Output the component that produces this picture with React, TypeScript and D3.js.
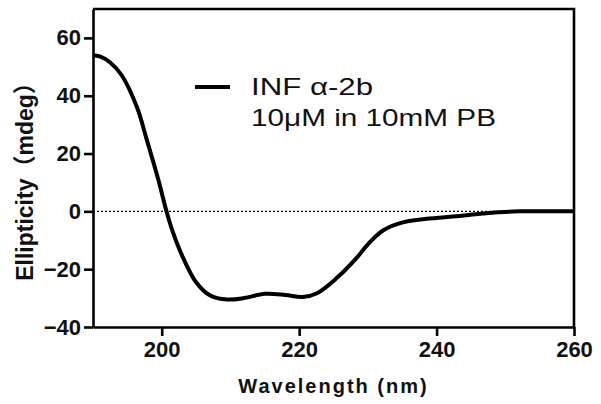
import React, { useRef, useEffect } from "react";
import { select, scaleLinear, axisBottom, axisLeft, line, curveCatmullRom } from "d3";

const wavelengths = [
  190, 191, 192.5, 194.2, 196.4, 197.8, 199.5, 200.7, 201.6, 203.1, 205, 207,
  209.5, 212, 215, 218, 220.5, 222.6, 225.5, 228.4, 230, 232.2, 235.1, 239,
  244, 249, 252, 256, 260,
];
const ellipticity = [
  54, 53.6, 51.5, 47, 36, 25, 11, 0, -7, -16, -24.5, -29, -30.5, -30, -28.5,
  -28.9, -29.6, -28.3, -23, -16, -11.4, -6.6, -3.8, -2.5, -1.4, -0.3, 0, 0, 0,
];
const xTicks = [200, 220, 240, 260];
const yTicks = [-40, -20, 0, 20, 40, 60];
const legendLines = ["INF \u03b1-2b", "10\u03bcM in 10mM PB"];

const width = 601;
const height = 404;
const margin = { top: 9, right: 27, bottom: 77, left: 93 };

const CDChart = () => {
  const ref = useRef<SVGSVGElement>(null);

  useEffect(() => {
    const svg = select(ref.current);
    svg.selectAll("*").remove();

    const innerWidth = width - margin.left - margin.right;
    const innerHeight = height - margin.top - margin.bottom;

    const xScale = scaleLinear().domain([190, 260]).range([0, innerWidth]);
    const yScale = scaleLinear().domain([-40, 70]).range([innerHeight, 0]);

    const g = svg
      .append("g")
      .attr("transform", `translate(${margin.left}, ${margin.top})`);

    // zero reference line
    g.append("line")
      .attr("x1", 0)
      .attr("x2", innerWidth)
      .attr("y1", yScale(0))
      .attr("y2", yScale(0))
      .attr("stroke", "#000")
      .attr("stroke-width", 1.2)
      .attr("stroke-dasharray", "2,2");

    // frame top + right
    g.append("path")
      .attr("d", `M0,0H${innerWidth}V${innerHeight}`)
      .attr("fill", "none")
      .attr("stroke", "#000")
      .attr("stroke-width", 2.6);

    const xAxis = axisBottom(xScale)
      .tickValues(xTicks)
      .tickSize(9)
      .tickPadding(5)
      .tickSizeOuter(0);
    const yAxis = axisLeft(yScale)
      .tickValues(yTicks)
      .tickSize(9)
      .tickPadding(3)
      .tickSizeOuter(0);

    const xg = g
      .append("g")
      .attr("transform", `translate(0, ${innerHeight})`)
      .call(xAxis);
    const yg = g.append("g").call(yAxis);

    [xg, yg].forEach((ax) => {
      ax.select(".domain").attr("stroke-width", 2.6);
      ax.selectAll(".tick line").attr("stroke-width", 2.6);
      ax.selectAll(".tick text")
        .style("font-family", "Liberation Sans, Arial, sans-serif")
        .style("font-size", "22px")
        .style("font-weight", "bold")
        .attr("fill", "#111");
    });

    // X-axis label
    g.append("text")
      .style("font-family", "Liberation Sans, Arial, sans-serif")
      .style("font-size", "20px")
      .style("font-weight", "bold")
      .style("letter-spacing", "2px")
      .attr("fill", "#111")
      .attr("x", innerWidth / 2)
      .attr("y", innerHeight + 66)
      .attr("text-anchor", "middle")
      .text("Wavelength (nm)");

    // Y-axis label
    g.append("text")
      .style("font-family", "Liberation Sans, Arial, 'Noto Sans CJK SC', sans-serif")
      .style("font-size", "23px")
      .style("font-weight", "bold")
      .attr("fill", "#111")
      .attr("transform", "rotate(-90)")
      .attr("x", -(innerHeight / 2) - 8)
      .attr("y", -60)
      .attr("text-anchor", "middle")
      .text("Ellipticity\uff08mdeg\uff09");

    const lineGenerator = line<number>()
      .x((d, i) => xScale(wavelengths[i]))
      .y((d) => yScale(d))
      .curve(curveCatmullRom.alpha(0.5));

    g.append("path")
      .datum(ellipticity)
      .attr("fill", "none")
      .attr("stroke", "#000")
      .attr("stroke-width", 4)
      .attr("stroke-linejoin", "round")
      .attr("d", lineGenerator);

    // legend
    g.append("line")
      .attr("x1", 102)
      .attr("x2", 137)
      .attr("y1", 78)
      .attr("y2", 78)
      .attr("stroke", "#000")
      .attr("stroke-width", 4);

    const legendWidths = [122, 245];
    legendLines.forEach((t, i) => {
      g.append("text")
        .style("font-family", "Liberation Sans, Arial, sans-serif")
        .style("font-size", "24px")
        .attr("fill", "#111")
        .attr("x", 158)
        .attr("y", 86 + i * 31)
        .attr("textLength", legendWidths[i])
        .attr("lengthAdjust", "spacingAndGlyphs")
        .text(t);
    });
  }, []);

  return (
    <svg
      ref={ref}
      width={width}
      height={height}
      style={{ position: "absolute", left: 0, top: 0, background: "#fff" }}
    />
  );
};

export default function App() {
  return <CDChart />;
}
